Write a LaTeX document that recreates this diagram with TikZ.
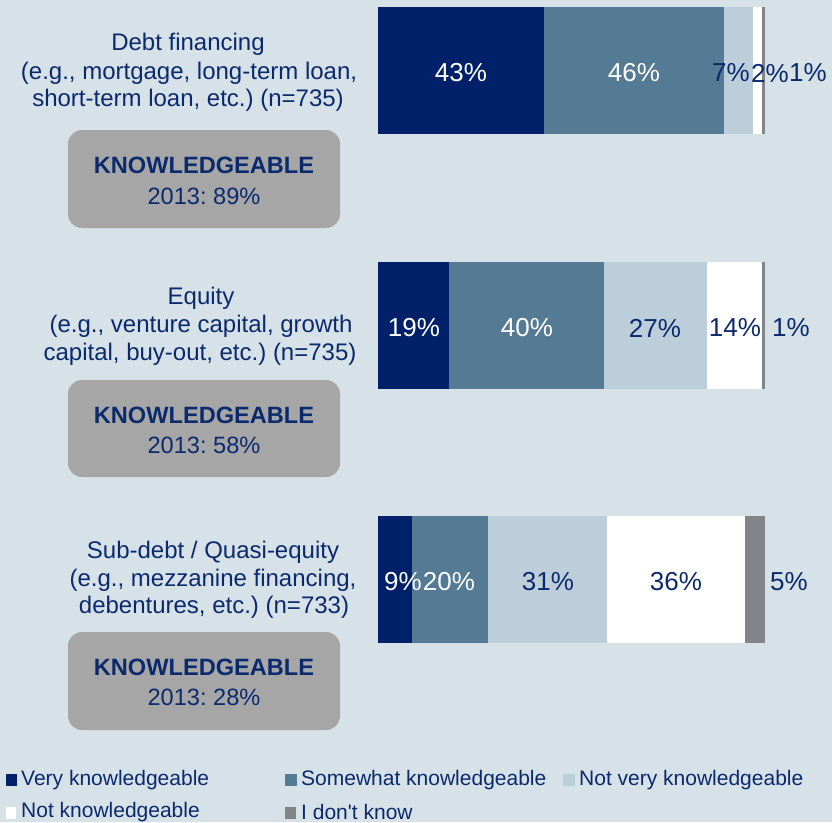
\documentclass[tikz,border=0pt]{standalone}
\usepackage{fontspec}
\setmainfont{Liberation Sans}
\frenchspacing
\definecolor{bgc}{HTML}{D6E1E8}
\definecolor{navy}{HTML}{00216A}
\definecolor{txt}{HTML}{0B2A6E}
\definecolor{midb}{HTML}{557A94}
\definecolor{lightb}{HTML}{BCCEDA}
\definecolor{dkgray}{HTML}{818488}
\definecolor{boxgray}{HTML}{A6A6A6}
\tikzset{
  cat/.style={text=txt, font=\fontsize{24}{28}\selectfont, inner sep=0pt, anchor=center},
  pct/.style={font=\fontsize{26}{30}\selectfont, inner sep=0pt, anchor=center},
  kbox/.style={fill=boxgray, rounded corners=14pt, draw=none},
  ktxt/.style={text=txt, inner sep=0pt, anchor=center},
  legtxt/.style={text=txt, font=\fontsize{21}{24}\selectfont, inner sep=0pt, anchor=west},
}
\begin{document}
\begin{tikzpicture}[x=1pt,y=-1pt]
\fill[bgc] (0,0) rectangle (832,822);
\useasboundingbox (0,0) rectangle (832,822);

% ---- Bar 1
\fill[navy] (378,7) rectangle (544,134);
\fill[midb] (544,7) rectangle (724,134);
\fill[lightb] (724,7) rectangle (753,134);
\fill[white] (753,7) rectangle (762,134);
\fill[dkgray] (762,7) rectangle (765,134);
\node[pct,text=white] (b1a) at (461,73) {43\%};
\node[pct,text=white] (b1b) at (634,73) {46\%};
\node[pct,text=txt] (b1c) at (731,73) {7\%};
\node[pct,text=txt] (b1d) at (770,73) {2\%};
\node[pct,text=txt] (b1e) at (808,73) {1\%};

% ---- Bar 2
\fill[navy] (378,262) rectangle (449,389);
\fill[midb] (449,262) rectangle (604,389);
\fill[lightb] (604,262) rectangle (707,389);
\fill[white] (707,262) rectangle (762,389);
\fill[dkgray] (762,262) rectangle (765,389);
\node[pct,text=white] (b2a) at (414,328) {19\%};
\node[pct,text=white] (b2b) at (527,328) {40\%};
\node[pct,text=txt] (b2c) at (655,328) {27\%};
\node[pct,text=txt] (b2d) at (735,328) {14\%};
\node[pct,text=txt] (b2e) at (791,328) {1\%};

% ---- Bar 3
\fill[navy] (378,516) rectangle (412,643);
\fill[midb] (412,516) rectangle (488,643);
\fill[lightb] (488,516) rectangle (607,643);
\fill[white] (607,516) rectangle (745,643);
\fill[dkgray] (745,516) rectangle (765,643);
\node[pct,text=white] (b3a) at (403,582) {9\%};
\node[pct,text=white] (b3b) at (449,582) {20\%};
\node[pct,text=txt] (b3c) at (548,582) {31\%};
\node[pct,text=txt] (b3d) at (676,582) {36\%};
\node[pct,text=txt] (b3e) at (789,582) {5\%};

% ---- Category labels
\node[cat] (c1a) at (188,44) {Debt financing};
\node[cat] (c1b) at (189,73) {(e.g., mortgage, long-term loan,};
\node[cat] (c1c) at (188,100) {short-term loan, etc.) (n=735)};

\node[cat] (c2a) at (201,298) {Equity};
\node[cat] (c2b) at (201,326) {(e.g., venture capital, growth};
\node[cat] (c2c) at (200,354) {capital, buy-out, etc.) (n=735)};

\node[cat] (c3a) at (213,552) {Sub-debt / Quasi-equity};
\node[cat] (c3b) at (213,580) {(e.g., mezzanine financing,};
\node[cat] (c3c) at (214,607) {debentures, etc.) (n=733)};

% ---- Knowledgeable boxes
\fill[kbox] (68,130) rectangle (340,228);
\node[ktxt,font=\fontsize{23.6}{27}\selectfont\bfseries] (k1a) at (204,165) {KNOWLEDGEABLE};
\node[ktxt,font=\fontsize{23.6}{27}\selectfont] (k1b) at (204,196) {2013: 89\%};

\fill[kbox] (68,380) rectangle (340,477);
\node[ktxt,font=\fontsize{23.6}{27}\selectfont\bfseries] (k2a) at (204,415) {KNOWLEDGEABLE};
\node[ktxt,font=\fontsize{23.6}{27}\selectfont] (k2b) at (204,445) {2013: 58\%};

\fill[kbox] (68,632) rectangle (340,730);
\node[ktxt,font=\fontsize{23.6}{27}\selectfont\bfseries] (k3a) at (204,667) {KNOWLEDGEABLE};
\node[ktxt,font=\fontsize{23.6}{27}\selectfont] (k3b) at (204,697) {2013: 28\%};

% ---- Legend
\fill[navy] (6,774) rectangle (17,786);
\node[legtxt] (l1) at (21,780) {Very knowledgeable};
\fill[midb] (285,774) rectangle (297,786);
\node[legtxt] (l2) at (301,780) {Somewhat knowledgeable};
\fill[lightb] (563,774) rectangle (575,786);
\node[legtxt] (l3) at (579,780) {Not very knowledgeable};
\fill[white] (6,807) rectangle (16,819);
\node[legtxt] (l4) at (21,812) {Not knowledgeable};
\fill[dkgray] (285,807) rectangle (296,819);
\node[legtxt] (l5) at (301,812) {I don\textquotesingle t know};
\end{tikzpicture}
\end{document}
